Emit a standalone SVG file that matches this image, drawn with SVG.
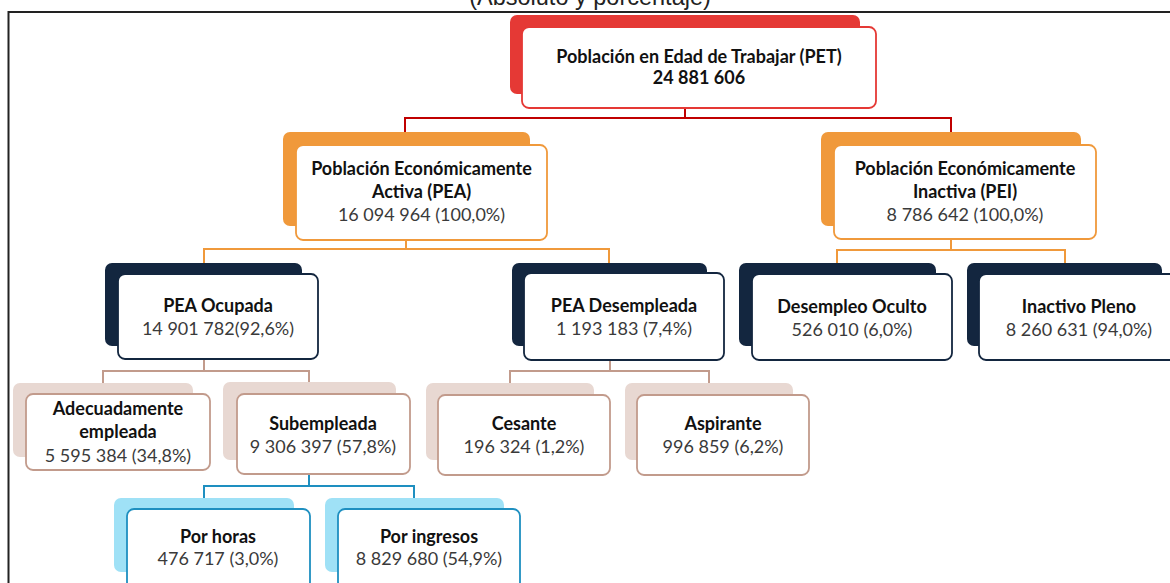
<svg xmlns="http://www.w3.org/2000/svg" width="1170" height="583" viewBox="0 0 1170 583">
<style>
  .t{font-family:Lato,"Liberation Sans",sans-serif;font-size:18px;font-weight:700;fill:#111;text-anchor:middle}
  .v{font-family:Lato,"Liberation Sans",sans-serif;font-size:18px;font-weight:400;fill:#3a3a3a;text-anchor:middle}
  .f{fill:#fff;stroke-width:1.8}
  .red-b{fill:#E53935}.red-f{stroke:#E53935}
  .org-b{fill:#F0993B}.org-f{stroke:#F0993B}
  .nav-b{fill:#13263F}.nav-f{stroke:#13263F}
  .tan-b{fill:#E8D8D2}.tan-f{stroke:#C29B8C}
  .blu-b{fill:#9FE1F6}.blu-f{stroke:#1E8FC0}
  .c{fill:none;stroke-width:2}
</style>
<rect width="1170" height="583" fill="#fff"/>
<text x="590" y="5" font-family="'Liberation Sans',Arial,sans-serif" font-size="23.5" fill="#222" text-anchor="middle">(Absoluto y porcentaje)</text>
<path d="M8.5 583 V12 H1170" fill="none" stroke="#222" stroke-width="2"/>

<g id="connectors">
  <path class="c" stroke="#C00000" d="M685 108 V118 M405 132 V118 H951 V132"/>
  <path class="c" stroke="#F0993B" d="M406 240 V249 M204 263 V249 H609 V263"/>
  <path class="c" stroke="#F0993B" d="M951 239 V250 M837 263 V250 H1065 V263"/>
  <path class="c" stroke="#C29B8C" d="M204 359 V371 M103 383 V371 H309 V383"/>
  <path class="c" stroke="#C29B8C" d="M610 360 V371 M510 383 V371 H709 V383"/>
  <path class="c" stroke="#1E8FC0" d="M309 474 V486 M204 498 V486 H414 V498"/>
</g>

<g id="pet">
  <rect class="red-b" x="510" y="15" width="350" height="79" rx="7"/>
  <rect class="f red-f" x="522" y="27" width="354" height="81" rx="7"/>
  <text class="t" x="699" y="63">Población en Edad de Trabajar (PET)</text>
  <text class="t" x="699" y="84">24 881 606</text>
</g>
<g id="pea">
  <rect class="org-b" x="283" y="132" width="247" height="94" rx="7"/>
  <rect class="f org-f" x="296" y="145" width="251" height="95" rx="7"/>
  <text class="t" x="421.5" y="175">Población Económicamente</text>
  <text class="t" x="421.5" y="198">Activa (PEA)</text>
  <text class="v" x="421.5" y="221">16 094 964 (100,0%)</text>
</g>
<g id="pei">
  <rect class="org-b" x="821" y="132" width="260" height="94" rx="7"/>
  <rect class="f org-f" x="834" y="145" width="262" height="94" rx="7"/>
  <text class="t" x="965" y="175">Población Económicamente</text>
  <text class="t" x="965" y="198">Inactiva (PEI)</text>
  <text class="v" x="965" y="221">8 786 642 (100,0%)</text>
</g>
<g id="pea-ocupada">
  <rect class="nav-b" x="105" y="263" width="197" height="83" rx="7"/>
  <rect class="f nav-f" x="118" y="274" width="200" height="85" rx="7"/>
  <text class="t" x="218" y="312">PEA Ocupada</text>
  <text class="v" x="218" y="335">14 901 782(92,6%)</text>
</g>
<g id="pea-desempleada">
  <rect class="nav-b" x="512" y="263" width="195" height="83" rx="7"/>
  <rect class="f nav-f" x="524" y="273" width="200" height="87" rx="7"/>
  <text class="t" x="624" y="312">PEA Desempleada</text>
  <text class="v" x="624" y="335">1 193 183 (7,4%)</text>
</g>
<g id="desempleo-oculto">
  <rect class="nav-b" x="739" y="263" width="197" height="83" rx="7"/>
  <rect class="f nav-f" x="752" y="274" width="200" height="86" rx="7"/>
  <text class="t" x="852" y="313">Desempleo Oculto</text>
  <text class="v" x="852" y="336">526 010 (6,0%)</text>
</g>
<g id="inactivo-pleno">
  <rect class="nav-b" x="967" y="263" width="195" height="83" rx="7"/>
  <rect class="f nav-f" x="979" y="274" width="200" height="86" rx="7"/>
  <text class="t" x="1079" y="313">Inactivo Pleno</text>
  <text class="v" x="1079" y="336">8 260 631 (94,0%)</text>
</g>
<g id="adecuadamente">
  <rect class="tan-b" x="13" y="383" width="180" height="74" rx="7"/>
  <rect class="f tan-f" x="26" y="394" width="184" height="76" rx="7"/>
  <text class="t" x="118" y="415">Adecuadamente</text>
  <text class="t" x="118" y="438">empleada</text>
  <text class="v" x="118" y="462">5 595 384 (34,8%)</text>
</g>
<g id="subempleada">
  <rect class="tan-b" x="223" y="382" width="173" height="78" rx="7"/>
  <rect class="f tan-f" x="237" y="394" width="173" height="80" rx="7"/>
  <text class="t" x="323" y="430">Subempleada</text>
  <text class="v" x="323" y="453">9 306 397 (57,8%)</text>
</g>
<g id="cesante">
  <rect class="tan-b" x="426" y="383" width="168" height="77" rx="7"/>
  <rect class="f tan-f" x="438" y="395" width="172" height="80" rx="7"/>
  <text class="t" x="524" y="430">Cesante</text>
  <text class="v" x="524" y="453">196 324 (1,2%)</text>
</g>
<g id="aspirante">
  <rect class="tan-b" x="625" y="383" width="168" height="77" rx="7"/>
  <rect class="f tan-f" x="637" y="395" width="172" height="80" rx="7"/>
  <text class="t" x="723" y="430">Aspirante</text>
  <text class="v" x="723" y="453">996 859 (6,2%)</text>
</g>
<g id="por-horas">
  <rect class="blu-b" x="114" y="498" width="180" height="74" rx="7"/>
  <rect class="f blu-f" x="127" y="509" width="183" height="80" rx="7"/>
  <text class="t" x="218" y="543">Por horas</text>
  <text class="v" x="218" y="565">476 717 (3,0%)</text>
</g>
<g id="por-ingresos">
  <rect class="blu-b" x="325" y="498" width="179" height="74" rx="7"/>
  <rect class="f blu-f" x="338" y="509" width="182" height="80" rx="7"/>
  <text class="t" x="429" y="543">Por ingresos</text>
  <text class="v" x="429" y="565">8 829 680 (54,9%)</text>
</g>
</svg>
